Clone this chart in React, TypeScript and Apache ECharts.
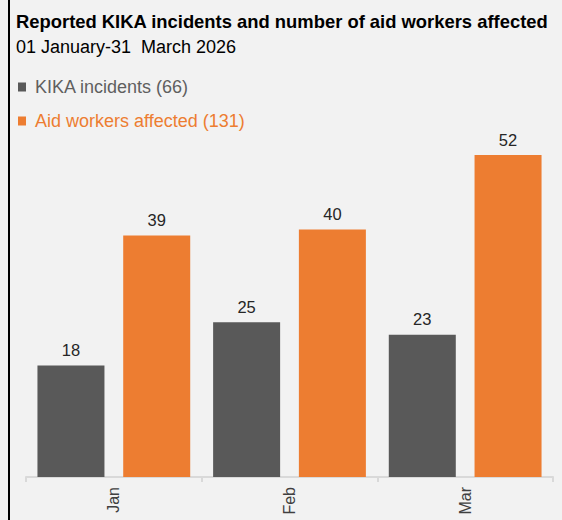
import React, { useEffect, useRef } from "react";
import * as echarts from "echarts";

const categories = ["Jan", "Feb", "Mar"];
const kikaIncidents = [18, 25, 23];
const aidWorkersAffected = [39, 40, 52];
const seriesNames = ["KIKA incidents (66)", "Aid workers affected (131)"];
const titleText = "Reported KIKA incidents and number of aid workers affected";
const subtitleText = "01 January-31  March 2026";

const GRAY = "#595959";
const ORANGE = "#ED7D31";
const FONT = "Arial, 'Liberation Sans', Helvetica, sans-serif";

export default function App() {
  const ref = useRef<HTMLDivElement>(null);

  useEffect(() => {
    if (!ref.current) return;
    const chart = echarts.init(ref.current, undefined, { renderer: "svg" });
    chart.setOption({
      animation: false,
      backgroundColor: "#F2F2F2",
      textStyle: { fontFamily: FONT },
      title: [
        {
          text: titleText,
          left: 16,
          top: 12,
          padding: 0,
          textStyle: { fontSize: 18.4, fontWeight: "bold", color: "#000", lineHeight: 19, fontFamily: FONT },
        },
        {
          text: subtitleText,
          left: 16,
          top: 38,
          padding: 0,
          textStyle: { fontSize: 18, fontWeight: "normal", color: "#000", lineHeight: 18, fontFamily: FONT },
        },
      ],
      legend: {
        orient: "vertical",
        left: 18,
        top: 77,
        padding: 0,
        itemWidth: 8,
        itemHeight: 9,
        itemGap: 14,
        icon: "rect",
        data: [
          { name: seriesNames[0], textStyle: { color: "#5f5f5f" } },
          { name: seriesNames[1], textStyle: { color: ORANGE } },
        ],
        textStyle: { fontSize: 18, lineHeight: 20, padding: [0, 0, 0, 4], fontFamily: FONT },
      },
      grid: { left: 26, right: 9, top: 105.6, bottom: 43, containLabel: false },
      xAxis: {
        type: "category",
        data: categories,
        axisLine: { show: true, lineStyle: { color: "#D9D9D9", width: 2 } },
        axisTick: { show: true, length: 5, lineStyle: { color: "#D9D9D9", width: 2 } },
        axisLabel: { rotate: 90, fontSize: 16, color: "#404040", margin: 10, fontFamily: FONT },
      },
      yAxis: {
        type: "value",
        min: 0,
        max: 60,
        show: false,
        splitLine: { show: false },
      },
      series: [
        {
          name: seriesNames[0],
          type: "bar",
          data: kikaIncidents,
          barWidth: 67,
          barGap: "28%",
          itemStyle: { color: GRAY },
          label: { show: true, position: "top", distance: 7, fontSize: 16.5, color: "#262626", fontFamily: FONT },
        },
        {
          name: seriesNames[1],
          type: "bar",
          data: aidWorkersAffected,
          barWidth: 67,
          barGap: "28%",
          itemStyle: { color: ORANGE },
          label: { show: true, position: "top", distance: 7, fontSize: 16.5, color: "#262626", fontFamily: FONT },
        },
      ],
      graphic: [
        { type: "rect", shape: { x: 8, y: 0, width: 2, height: 520 }, style: { fill: "#000" }, silent: true },
      ],
    });
    return () => chart.dispose();
  }, []);

  return (
    <div
      ref={ref}
      style={{ position: "fixed", left: 0, top: 0, width: 562, height: 520, background: "#F2F2F2" }}
    />
  );
}
